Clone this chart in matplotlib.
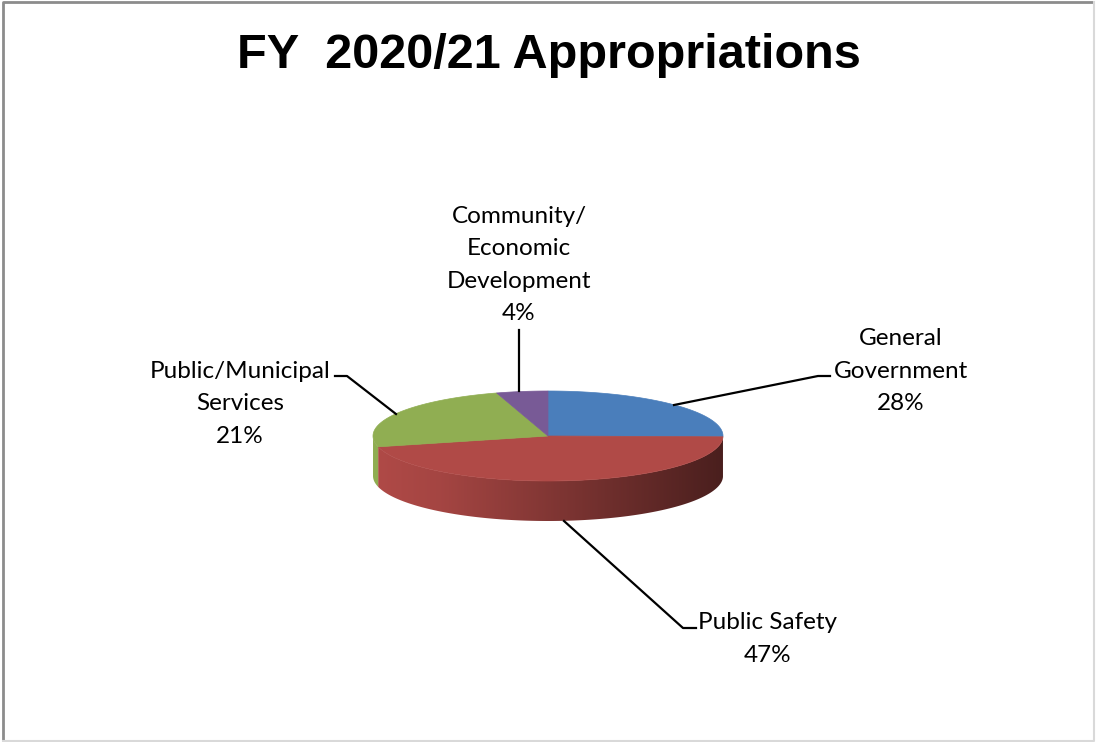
import numpy as np
import matplotlib.pyplot as plt
from matplotlib.colors import to_rgb
from matplotlib.patches import Polygon

# appropriations by category (percent of total)
categories = ['General\nGovernment', 'Public Safety', 'Public/Municipal\nServices',
              'Community/\nEconomic\nDevelopment']
shares = [28, 47, 21, 4]
colors = ['#4a7ebb', '#b04a47', '#90ae52', '#785a96']
title = 'FY  2020/21 Appropriations'

# label text position (x, y) and leader line path, in pixel coordinates
label_pos = [(901, 371), (768, 639), (240, 404), (519, 265)]
leaders = [
    [(674, 405), (818, 376), (830, 376)],
    [(564, 521), (683, 628), (696, 628)],
    [(396, 414), (347, 376), (335, 376)],
    [(519, 391), (519, 330)],
]

W, H = 1096, 742
fig = plt.figure(figsize=(W / 100, H / 100), dpi=100)
ax = fig.add_axes([0, 0, 1, 1])
ax.set_xlim(0, W)
ax.set_ylim(H, 0)
ax.axis('off')

# chart frame
ax.plot([3, 3, W - 2], [H, 1.5, 1.5], color='#8c8c8c', lw=2, solid_capstyle='butt')
ax.plot([W - 2, W - 2, 3], [1.5, H - 1.5, H - 1.5], color='#d9d9d9', lw=1.5)

# pie geometry
cx, cy = 548, 436
rx, ry = 175, 45
depth = 40


def view(u):
    # clockwise angle from 12 o'clock -> on-screen angle with a slight 3d tilt
    u = np.asarray(u, dtype=float)
    r = np.radians(u)
    return 90 - (u - 16 * np.sin(r / 2) + 2.6 * np.sin(r))


def ell(t):
    t = np.radians(t)
    return cx + rx * np.cos(t), cy - ry * np.sin(t)


# slice bounds as clockwise angle from the top
ubounds = 360 * np.cumsum([0] + shares) / sum(shares)

# side walls (front half only)
for i, c in enumerate(colors):
    u = np.linspace(ubounds[i], ubounds[i + 1], 400)
    t = view(u)
    keep = (t <= 0) & (t >= -180)
    if keep.sum() < 2:
        continue
    x, y = ell(t[keep])
    pts = np.column_stack([np.r_[x, x[::-1]], np.r_[y, y[::-1] + depth]])
    poly = Polygon(pts, closed=True, facecolor='none', edgecolor='none')
    ax.add_patch(poly)
    base = np.array(to_rgb(c))
    xs = np.linspace(0, 1, 300)
    fac = np.interp(xs, [0, 0.2, 1], [1.0, 0.93, 0.42])
    grad = (base[None, :] * fac[:, None])[None, :, :]
    im = ax.imshow(grad, extent=(cx - rx, cx + rx, cy + ry + depth, cy - ry),
                   aspect='auto', zorder=2, interpolation='bilinear')
    im.set_clip_path(poly)

# top face
for i, c in enumerate(colors):
    t = view(np.linspace(ubounds[i], ubounds[i + 1], 300))
    x, y = ell(t)
    pts = np.column_stack([np.r_[cx, x], np.r_[cy, y]])
    ax.add_patch(Polygon(pts, closed=True, facecolor=c, edgecolor=c, lw=0.5, zorder=3))

# leader lines
for path in leaders:
    px, py = zip(*path)
    ax.plot(px, py, color='black', lw=1.6, zorder=4)

# data labels
for name, s, (lx, ly) in zip(categories, shares, label_pos):
    ax.text(lx, ly, f'{name}\n{s}%', ha='center', va='center', fontsize=17.5,
            family='Lato', linespacing=1.66, zorder=5)

ax.text(549, 56, title, ha='center', va='center', fontsize=35,
        fontweight='bold', family='Liberation Sans')

fig.savefig('out.png', dpi=100)
